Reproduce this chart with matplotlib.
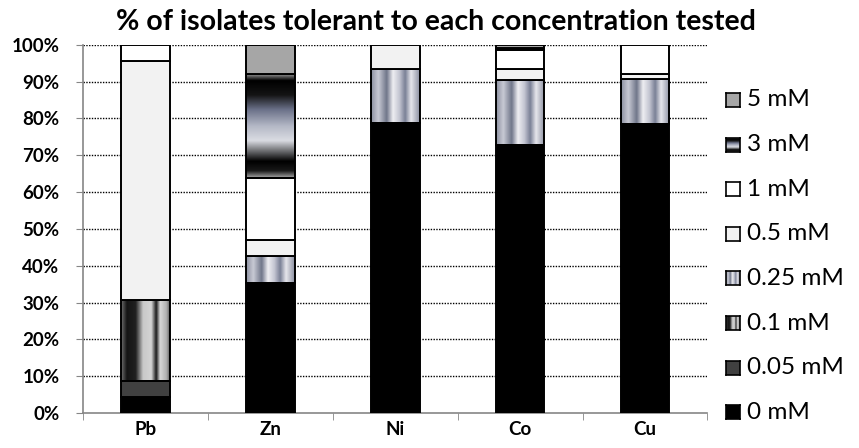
import numpy as np
import matplotlib
matplotlib.use("Agg")
from matplotlib import pyplot as plt
from matplotlib.colors import LinearSegmentedColormap

plt.rcParams['font.family'] = ['Lato', 'DejaVu Sans']

# metals tested and % of isolates tolerant at each concentration
metals = ['Pb', 'Zn', 'Ni', 'Co', 'Cu']
levels = ['0 mM', '0.05 mM', '0.1 mM', '0.25 mM', '0.5 mM', '1 mM', '3 mM', '5 mM']
pct_0 = [4.4, 35.4, 78.8, 72.8, 78.6]
pct_005 = [4.2, 0, 0, 0, 0]
pct_01 = [22.1, 0, 0, 0, 0]
pct_025 = [0, 7.2, 14.7, 17.7, 12.0]
pct_05 = [64.8, 4.5, 6.5, 3.0, 1.5]
pct_1 = [4.5, 16.8, 0, 5.0, 7.9]
pct_3 = [0, 28.1, 0, 0.7, 0]
pct_5 = [0, 8.0, 0, 0.8, 0]
series = [pct_0, pct_005, pct_01, pct_025, pct_05, pct_1, pct_3, pct_5]
y_ticks = [0, 10, 20, 30, 40, 50, 60, 70, 80, 90, 100]

# fills: plain colours, or (direction, colour stops) for the shaded ones
fills = {
    '0 mM': '#000000',
    '0.05 mM': '#404040',
    '0.1 mM': ('h', [(0.0, '#707070'), (0.12, '#151515'), (0.3, '#202020'),
                     (0.45, '#c8c8c8'), (0.62, '#d4d4d4'), (0.72, '#1a1a1a'),
                     (0.8, '#d8d8d8'), (0.93, '#b0b0b0'), (1.0, '#606060')]),
    '0.25 mM': ('h', [(0.0, '#8c90a0'), (0.15, '#c8cad4'), (0.32, '#70768a'),
                      (0.45, '#eeeef2'), (0.58, '#c4c6d2'), (0.7, '#7a8096'),
                      (0.82, '#e6e6ec'), (1.0, '#8a8ea0')]),
    '0.5 mM': '#f2f2f2',
    '1 mM': '#ffffff',
    '3 mM': ('v', [(0.0, '#a8a8a8'), (0.07, '#181818'), (0.16, '#000000'),
                   (0.36, '#dadce2'), (0.5, '#b4b8c6'), (0.66, '#6a7088'),
                   (0.8, '#141414'), (0.94, '#000000'), (1.0, '#909090')]),
    '5 mM': '#a6a6a6',
}


def grad_image(spec):
    direction, stops = spec
    cmap = LinearSegmentedColormap.from_list('g', stops)
    ramp = np.linspace(0, 1, 256)
    arr = ramp[None, :] if direction == 'h' else ramp[:, None]
    return arr, cmap


fig = plt.figure(figsize=(8.59, 4.48), dpi=100)
ax = fig.add_axes([0.0966, 0.078, 0.727, 0.822])

x = np.arange(len(metals))
bottom = np.zeros(len(metals))
for lev, vals in zip(levels, series):
    vals = np.array(vals, dtype=float)
    fill = fills[lev]
    for i in range(len(metals)):
        if vals[i] <= 0:
            continue
        face = fill if isinstance(fill, str) else 'none'
        bar = ax.bar(x[i], vals[i], bottom=bottom[i], width=0.39,
                     color=face, edgecolor='black', linewidth=1.4, zorder=3)[0]
        if not isinstance(fill, str):
            arr, cmap = grad_image(fill)
            im = ax.imshow(arr, cmap=cmap, aspect='auto', origin='lower',
                           extent=[bar.get_x(), bar.get_x() + bar.get_width(),
                                   bar.get_y(), bar.get_y() + bar.get_height()],
                           zorder=2, interpolation='bilinear')
            im.set_clip_path(bar)
    bottom += vals

ax.set_xlim(-0.5, len(metals) - 0.5)
ax.set_ylim(0, 100)
ax.set_yticks(y_ticks)
ax.set_yticklabels([f'{t}%' for t in y_ticks], fontsize=13.5, fontweight='bold')
ax.set_xticks(x)
ax.set_xticklabels(metals, fontsize=13.5, fontweight='bold')
ax.set_xticks(np.arange(-0.5, len(metals)), minor=True)
ax.tick_params(axis='x', which='major', length=0, pad=6)
ax.tick_params(axis='x', which='minor', length=5, color='#868686')
ax.tick_params(axis='y', length=5, color='#868686', pad=12)

for t in y_ticks[1:]:
    ax.axhline(t, color='black', linestyle=(0, (1, 1)), linewidth=1.0, zorder=1)

for side in ['top', 'right']:
    ax.spines[side].set_visible(False)
for side in ['left', 'bottom']:
    ax.spines[side].set_color('#868686')
    ax.spines[side].set_linewidth(1.2)

fig.text(0.507, 0.952, '% of isolates tolerant to each concentration tested',
         ha='center', va='center', fontsize=20.5, fontweight='bold')

# legend, top entry is the highest concentration
W, H = 859, 448
for k, lev in enumerate(reversed(levels)):
    cy = 100 + k * 44.6
    sq = fig.add_axes([726 / W, 1 - (cy + 7) / H, 14 / W, 14 / H])
    fill = fills[lev]
    if isinstance(fill, str):
        sq.set_facecolor(fill)
    else:
        arr, cmap = grad_image(fill)
        sq.imshow(arr, cmap=cmap, aspect='auto', origin='lower',
                  extent=[0, 1, 0, 1], interpolation='bilinear')
    sq.set_xticks([])
    sq.set_yticks([])
    for s in sq.spines.values():
        s.set_color('black')
        s.set_linewidth(1.2)
    fig.text(747 / W, 1 - cy / H, lev, ha='left', va='center', fontsize=17.5)

fig.savefig('out.png', dpi=100)
